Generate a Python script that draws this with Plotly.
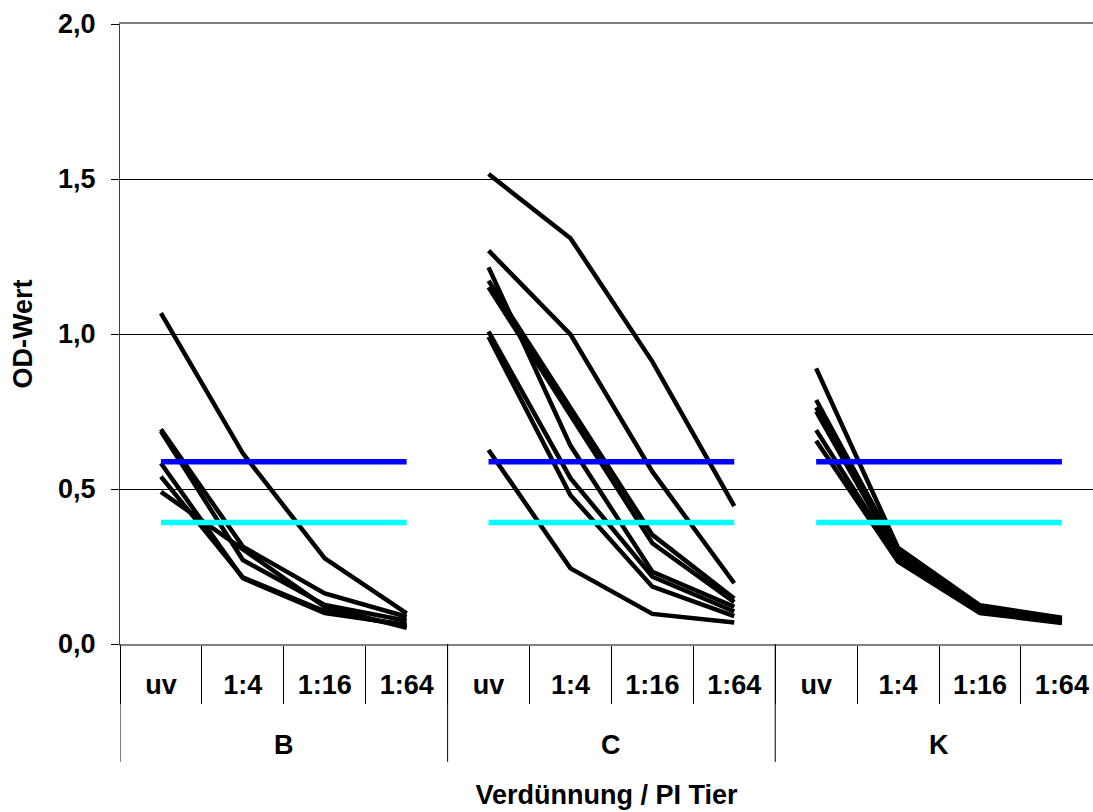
import plotly.graph_objects as go

groups = ["B", "C", "K"]
dilutions = ["uv", "1:4", "1:16", "1:64"]

B_series = [
    [1.067, 0.615, 0.276, 0.099],
    [0.693, 0.314, 0.163, 0.088],
    [0.686, 0.271, 0.126, 0.075],
    [0.583, 0.212, 0.100, 0.062],
    [0.540, 0.215, 0.105, 0.058],
    [0.491, 0.305, 0.120, 0.052],
]
C_series = [
    [1.516, 1.309, 0.911, 0.445],
    [1.269, 0.999, 0.556, 0.196],
    [1.215, 0.640, 0.233, 0.120],
    [1.172, 0.760, 0.352, 0.147],
    [1.151, 0.735, 0.325, 0.135],
    [1.008, 0.535, 0.217, 0.105],
    [0.991, 0.480, 0.185, 0.090],
    [0.626, 0.244, 0.097, 0.069],
]
K_series = [
    [0.889, 0.310, 0.125, 0.085],
    [0.787, 0.300, 0.120, 0.080],
    [0.763, 0.290, 0.115, 0.076],
    [0.750, 0.285, 0.110, 0.072],
    [0.690, 0.275, 0.105, 0.070],
    [0.656, 0.266, 0.100, 0.068],
]
upper_cutoff = 0.588
lower_cutoff = 0.392

y_ticks = [0.0, 0.5, 1.0, 1.5, 2.0]

FONT = "Liberation Sans"
FS = 27
n = len(dilutions)
fig = go.Figure()

all_series = [B_series, C_series, K_series]
for gi, series in enumerate(all_series):
    xs = [gi * n + i for i in range(n)]
    for s in series:
        fig.add_trace(go.Scatter(x=xs, y=s, mode="lines",
                                 line=dict(color="black", width=4.5),
                                 showlegend=False))

for cutoff, color in [(upper_cutoff, "#0000ff"), (lower_cutoff, "#00ffff")]:
    for gi in range(len(groups)):
        xs = [gi * n + i for i in range(n)]
        fig.add_trace(go.Scatter(x=xs, y=[cutoff] * n, mode="lines",
                                 line=dict(color=color, width=5.5),
                                 showlegend=False))

# group labels and dividers
for gi, g in enumerate(groups):
    fig.add_annotation(x=gi * n + (n - 1) / 2, y=-0.163, xref="x", yref="paper",
                       text="<b>%s</b>" % g, showarrow=False, yanchor="middle",
                       font=dict(family=FONT, size=FS, color="black"))
for b in range(len(groups) + 1):
    fig.add_shape(type="line", xref="x", yref="paper",
                  x0=b * n - 0.5, x1=b * n - 0.5, y0=0, y1=-0.19,
                  line=dict(color="black", width=1))

tickvals = list(range(n * len(groups)))
ticktext = ["<b>%s</b>" % t for t in dilutions * len(groups)]

fig.update_layout(
    width=1093, height=812,
    margin=dict(l=120, r=0, t=24, b=168),
    plot_bgcolor="white", paper_bgcolor="white",
    separators=", ",
    font=dict(family=FONT, size=FS, color="black"),
    xaxis=dict(
        range=[-0.5, 11.38],
        tickvals=tickvals, ticktext=ticktext,
        ticks="", ticklabelstandoff=16,
        tickfont=dict(family=FONT, size=FS, color="black"),
        showgrid=False, zeroline=False,
        showline=True, linecolor="#808080", linewidth=2, mirror=True,
        minor=dict(tick0=-0.5, dtick=1, ticks="outside", ticklen=58,
                   tickcolor="black", tickwidth=1, showgrid=False),
        title=dict(text="<b>Verdünnung / PI Tier</b>", standoff=86,
                   font=dict(family=FONT, size=FS, color="black")),
    ),
    yaxis=dict(
        range=[0, 2], tickvals=y_ticks,
        ticktext=["<b>%s</b>" % ("%.1f" % v).replace(".", ",") for v in y_ticks],
        ticks="outside", ticklen=8, tickcolor="black",
        ticklabelstandoff=10,
        tickfont=dict(family=FONT, size=FS, color="black"),
        showgrid=True, gridcolor="black", gridwidth=1,
        zeroline=False,
        showline=True, linecolor="#404040", linewidth=1,
        title=dict(text="<b>OD-Wert</b>", standoff=17,
                   font=dict(family=FONT, size=FS, color="black")),
    ),
)

fig.write_html("out.html")
